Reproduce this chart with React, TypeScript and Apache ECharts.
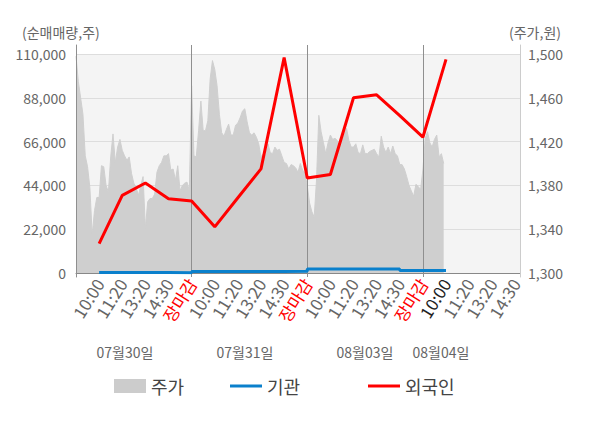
import React, { useEffect, useRef } from 'react';
import * as echarts from 'echarts';

// ---- data ----
const slotLabels = ['10:00', '11:20', '13:20', '14:30', '장마감'];
const dayLabels = ['07월30일', '07월31일', '08월03일', '08월04일'];

// intraday price (주가, 원) per step
const priceData = [
  1498, 1475, 1460, 1445, 1407, 1397, 1378, 1335, 1357, 1369,
  1369, 1398, 1397, 1380, 1374, 1406, 1427, 1401, 1415, 1422,
  1412, 1407, 1403, 1406, 1391, 1382, 1378, 1371, 1380, 1388,
  1341, 1365, 1368, 1368, 1372, 1392, 1398, 1401, 1407, 1407,
  1409, 1394, 1395, 1385, 1398, 1375, 1380, 1382, 1383, 1375,
  1471, 1407, 1406, 1430, 1457, 1430, 1430, 1439, 1477, 1494,
  1486, 1471, 1445, 1428, 1425, 1431, 1436, 1426, 1426, 1435,
  1437, 1442, 1448, 1450, 1438, 1428, 1426, 1428, 1424, 1418,
  1406, 1409, 1407, 1418, 1410, 1409, 1415, 1412, 1413, 1407,
  1401, 1400, 1395, 1399, 1398, 1396, 1392, 1400, 1394, 1391,
  1380, 1364, 1356, 1351, 1385, 1444, 1429, 1419, 1409, 1419,
  1426, 1422, 1423, 1421, 1415, 1423, 1427, 1432, 1421, 1415,
  1415, 1418, 1410, 1409, 1417, 1409, 1409, 1411, 1412, 1413,
  1409, 1406, 1425, 1415, 1410, 1415, 1409, 1416, 1409, 1407,
  1399, 1399, 1395, 1388, 1380, 1375, 1370, 1381, 1379, 1376,
  1394, 1423, 1429, 1419, 1415, 1422, 1426, 1406, 1409, 1400,
];

// label slots (1 = first 10:00) at which net trading is reported
const flowSlots = [1, 2, 3, 4, 5, 6, 7, 8, 9, 10, 11, 12, 13, 14, 15, 16];
// 외국인 net buying (주)
const foreignData = [
  14800, 39000, 45200, 37300, 36200, 23200, 37800, 52300,
  108200, 47700, 49500, 88000, 89500, 79000, 68200, 107300,
];
// 기관 net buying (주)
const instData = [
  300, 300, 300, 100, 700, 700, 700, 700,
  900, 2000, 2000, 2000, 2000, 1300, 1300, 1300,
];

const STEPS_PER_SLOT = 10;
const SLOTS_PER_DAY = 5;
const TOTAL_SLOTS = 19.2;

export default function App() {
  const ref = useRef<HTMLDivElement>(null);

  useEffect(() => {
    document.body.style.margin = '0';
    if (!ref.current) return;
    const chart = echarts.init(ref.current, undefined, { renderer: 'svg' });

    const totalSteps = Math.round(TOTAL_SLOTS * STEPS_PER_SLOT);
    const categories = Array.from({ length: totalSteps + 1 }, (_, i) => String(i));
    const dayStep = STEPS_PER_SLOT * SLOTS_PER_DAY;
    const lastSlot = flowSlots[flowSlots.length - 1];

    const font = 'Noto Sans CJK KR';
    const grey = '#666666';

    const option: any = {
      animation: false,
      textStyle: { fontFamily: font },
      grid: [
        {
          left: 76, right: 80, top: 54, bottom: 155,
          show: true, backgroundColor: '#f4f4f4', borderWidth: 0,
        },
        { left: 76, right: 80, top: 45, bottom: 151, show: false },
      ],
      xAxis: [
        {
          type: 'category',
          gridIndex: 0,
          data: categories,
          boundaryGap: false,
          axisLine: { show: true, lineStyle: { color: '#888888', width: 1 } },
          axisTick: { show: false },
          splitLine: { show: false },
          axisLabel: {
            interval: (i: number) => i > 0 && i % STEPS_PER_SLOT === 0,
            rotate: 58,
            margin: 7,
            fontSize: 17,
            color: grey,
            fontFamily: font,
            formatter: (v: string) => {
              const s = Number(v) / STEPS_PER_SLOT;
              const lab = slotLabels[(s - 1) % SLOTS_PER_DAY];
              if (lab === '장마감') return `{close|${lab}}`;
              if (s === lastSlot) return `{today|${lab}}`;
              return lab;
            },
            rich: {
              close: { color: '#ff0000', fontSize: 17, fontFamily: font },
              today: { color: '#222222', fontSize: 17, fontFamily: font },
            },
          },
        },
        {
          type: 'category',
          gridIndex: 1,
          data: categories,
          boundaryGap: false,
          z: 5,
          axisLine: { show: false },
          axisTick: { show: false },
          axisLabel: { show: false },
          splitLine: {
            show: true,
            showMinLine: true,
            interval: (i: number) => i % dayStep === 0,
            lineStyle: { color: '#8f8f8f', width: 1 },
          },
        },
      ],
      yAxis: [
        {
          type: 'value',
          gridIndex: 0,
          position: 'left',
          min: 0,
          max: 110000,
          interval: 22000,
          axisLine: { show: false },
          axisTick: { show: false },
          axisLabel: { color: grey, fontSize: 14, margin: 10, fontFamily: font },
          splitLine: { show: true, lineStyle: { color: '#dddddd', width: 1 } },
        },
        {
          type: 'value',
          gridIndex: 0,
          position: 'right',
          min: 1300,
          max: 1500,
          interval: 40,
          axisLine: { show: false },
          axisTick: { show: false },
          axisLabel: { color: grey, fontSize: 14, margin: 8, fontFamily: font },
          splitLine: { show: false },
        },
        {
          type: 'value', gridIndex: 1, position: 'left', min: 0, max: 1, z: 5,
          axisLine: { show: true, onZero: false, lineStyle: { color: '#8f8f8f', width: 1 } },
          axisTick: { show: false },
          axisLabel: { show: false }, splitLine: { show: false },
        },
        {
          type: 'value', gridIndex: 1, position: 'right', min: 0, max: 1, z: 5,
          axisLine: { show: true, onZero: false, lineStyle: { color: '#cccccc', width: 1 } },
          axisTick: { show: false },
          axisLabel: { show: false }, splitLine: { show: false },
        },
      ],
      legend: [
        {
          left: 114, top: 377, padding: 0,
          itemWidth: 32, itemHeight: 14,
          textStyle: { fontSize: 18, color: '#444444', fontFamily: font },
          data: [{ name: '주가', icon: 'rect', itemStyle: { color: '#cccccc' } }],
        },
        {
          left: 230, top: 377, padding: 0,
          itemWidth: 32, itemHeight: 3,
          textStyle: { fontSize: 18, color: '#444444', fontFamily: font },
          data: [{ name: '기관', icon: 'rect', itemStyle: { color: '#0a80cc' } }],
        },
        {
          left: 368, top: 377, padding: 0,
          itemWidth: 32, itemHeight: 3,
          textStyle: { fontSize: 18, color: '#444444', fontFamily: font },
          data: [{ name: '외국인', icon: 'rect', itemStyle: { color: '#ff0000' } }],
        },
      ],
      graphic: [
        {
          type: 'text', left: 22, top: 25,
          style: { text: '(순매매량,주)', fill: grey, font: `14px "${font}"` },
        },
        {
          type: 'text', left: 509, top: 25,
          style: { text: '(주가,원)', fill: grey, font: `14px "${font}"` },
        },
        ...dayLabels.map((d, k) => ({
          type: 'text',
          x: [125, 245, 365, 441][k],
          y: 352,
          style: {
            text: d, fill: grey, font: `14px "${font}"`,
            align: 'center', verticalAlign: 'middle',
          },
        })),
      ],
      series: [
        {
          name: '주가',
          type: 'line',
          xAxisIndex: 0,
          yAxisIndex: 1,
          data: priceData,
          symbol: 'none',
          lineStyle: { color: '#cfcfcf', width: 1 },
          itemStyle: { color: '#cccccc' },
          areaStyle: { color: '#cfcfcf', opacity: 1 },
          silent: true,
          z: 1,
        },
        {
          name: '기관',
          type: 'line',
          xAxisIndex: 0,
          yAxisIndex: 0,
          step: 'end',
          data: flowSlots.map((s, k) => [s * STEPS_PER_SLOT, instData[k]]),
          symbol: 'none',
          lineStyle: { color: '#0a80cc', width: 3 },
          itemStyle: { color: '#0a80cc' },
          silent: true,
          z: 6,
        },
        {
          name: '외국인',
          type: 'line',
          xAxisIndex: 0,
          yAxisIndex: 0,
          data: flowSlots.map((s, k) => [s * STEPS_PER_SLOT, foreignData[k]]),
          symbol: 'none',
          lineStyle: { color: '#ff0000', width: 3 },
          itemStyle: { color: '#ff0000' },
          silent: true,
          z: 7,
        },
      ],
    };

    chart.setOption(option);
    return () => chart.dispose();
  }, []);

  return <div ref={ref} style={{ width: 600, height: 428 }} />;
}
